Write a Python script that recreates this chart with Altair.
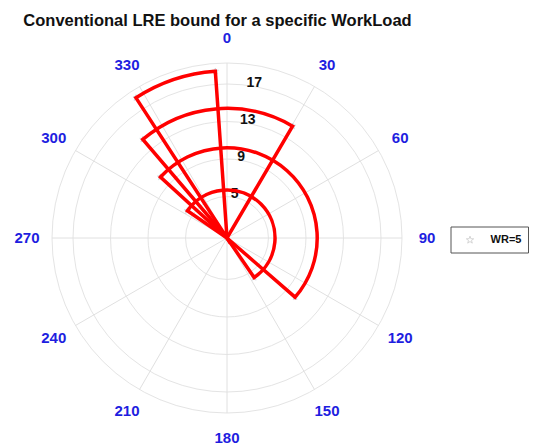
import math
import altair as alt
import pandas as pd

# ---------------- data ----------------
TITLE = "Conventional LRE bound for a specific WorkLoad"
THETA_TICKS = [0, 30, 60, 90, 120, 150, 180, 210, 240, 270, 300, 330]
SPOKES = [0, 30, 60, 90, 120, 150]
RING_TICKS = [5, 9, 13, 17]
R_MIN, R_MAX = 0.58, 19.24          # radial axis limits

WEDGE_R = [5.7, 10.2, 14.4, 18.4]
WEDGE_START = [304.5, 312.5, 319.5, 327.0]   # degrees, clockwise from north
WEDGE_END = [145.5, 131.0, 30.4, 356.0]
LEGEND_LABEL = "WR=5"

# ---------------- layout ----------------
W, H = 521, 437
CX, CY = 219, 230
R_PX = 175
LABEL_PX = 200
FONT = "Liberation Sans"
D = R_MAX - R_MIN

theta_scale = alt.Scale(type="linear", domain=[0, 360], range=[0, 2 * math.pi], zero=False)
radius_scale = alt.Scale(type="linear", domain=[R_MIN, R_MAX], range=[0, R_PX], zero=False)
xs = alt.Scale(domain=[-D, D], range=[CX - R_PX, CX + R_PX], zero=False)
ys = alt.Scale(domain=[-D, D], range=[CY + R_PX, CY - R_PX], zero=False)

# five-pointed star path (unit size)
pts = []
for k in range(10):
    rr = 1.0 if k % 2 == 0 else 0.4
    a = math.radians(-90 + 36 * k)
    pts.append(f"{rr*math.cos(a):.3f},{rr*math.sin(a):.3f}")
STAR = "M" + " L".join(pts) + " Z"

ring_df = pd.DataFrame({"r": RING_TICKS + [R_MAX], "t0": 0, "t1": 360})
spoke_df = pd.DataFrame({"a": SPOKES})
label_df = pd.DataFrame({"a": THETA_TICKS})
rlab_df = pd.DataFrame({"r": RING_TICKS})

wedge_df = pd.DataFrame({
    "r": WEDGE_R,
    "t0": WEDGE_START,
    "t1": [e + 360 if e < s else e for s, e in zip(WEDGE_START, WEDGE_END)],
})
corner_df = pd.DataFrame({
    "r": WEDGE_R * 2,
    "a": WEDGE_START + WEDGE_END,
})

rings = alt.Chart(ring_df).mark_arc(filled=False, stroke="#e4e4e4", strokeWidth=1, color="#e4e4e4").encode(
    theta=alt.Theta("t0:Q", scale=theta_scale),
    theta2="t1:Q",
    radius=alt.Radius("r:Q", scale=radius_scale),
    radius2=alt.value(0),
    x=alt.value(CX), y=alt.value(CY),
)

spokes = alt.Chart(spoke_df).transform_calculate(
    x1=f"{D}*sin(datum.a*PI/180)", y1=f"{D}*cos(datum.a*PI/180)",
    x2=f"-{D}*sin(datum.a*PI/180)", y2=f"-{D}*cos(datum.a*PI/180)",
).mark_rule(color="#e0e0e0", strokeWidth=1).encode(
    x=alt.X("x1:Q", scale=xs, axis=None),
    y=alt.Y("y1:Q", scale=ys, axis=None),
    x2="x2:Q", y2="y2:Q",
)

theta_labels = alt.Chart(label_df).mark_text(
    font=FONT, fontSize=15, fontWeight="bold", color="#1e1ee0", align="center", baseline="middle"
).encode(
    theta=alt.Theta("a:Q", scale=theta_scale),
    radius=alt.value(LABEL_PX),
    text=alt.Text("a:Q", format="d"),
    x=alt.value(CX), y=alt.value(CY),
)

ring_labels = alt.Chart(rlab_df).mark_text(
    font=FONT, fontSize=14, fontWeight="bold", color="#111111", align="center", baseline="middle",
    radiusOffset=3,
).encode(
    theta=alt.value(math.radians(10)),
    radius=alt.Radius("r:Q", scale=radius_scale),
    text=alt.Text("r:Q", format="d"),
    x=alt.value(CX), y=alt.value(CY),
)

corners = alt.Chart(corner_df).transform_calculate(
    px=f"(datum.r-{R_MIN})*sin(datum.a*PI/180)", py=f"(datum.r-{R_MIN})*cos(datum.a*PI/180)",
).mark_point(shape=STAR, size=40, filled=False, color="#b8c8d4", strokeWidth=1).encode(
    x=alt.X("px:Q", scale=xs, axis=None),
    y=alt.Y("py:Q", scale=ys, axis=None),
)

wedges = alt.Chart(wedge_df).mark_arc(
    filled=False, stroke="#ff0000", color="#ff0000", strokeWidth=3.5, strokeJoin="miter"
).encode(
    theta=alt.Theta("t0:Q", scale=theta_scale),
    theta2="t1:Q",
    radius=alt.Radius("r:Q", scale=radius_scale),
    radius2=alt.value(0),
    x=alt.value(CX), y=alt.value(CY),
)

leg_df = pd.DataFrame({"label": [LEGEND_LABEL]})
leg_box = alt.Chart(leg_df).mark_rect(fill="white", stroke="#555555", strokeWidth=1).encode(
    x=alt.value(443), x2=alt.value(520.5), y=alt.value(219), y2=alt.value(245)
)
leg_marker = alt.Chart(leg_df).mark_point(shape=STAR, size=60, filled=False, color="#c4c4c4", strokeWidth=1).encode(
    x=alt.value(462), y=alt.value(232)
)
leg_text = alt.Chart(leg_df).mark_text(
    font=FONT, fontSize=11, fontWeight="bold", color="#111111", align="center", baseline="middle"
).encode(x=alt.value(498), y=alt.value(232), text="label:N")

title = alt.Chart(pd.DataFrame({"t": [TITLE]})).mark_text(
    font=FONT, fontSize=16.5, fontWeight="bold", color="#111111", align="center", baseline="alphabetic"
).encode(x=alt.value(209.5), y=alt.value(18), text="t:N")

chart = alt.layer(
    rings, spokes, theta_labels, ring_labels, corners, wedges, leg_box, leg_marker, leg_text, title
).properties(
    width=W, height=H, padding=0, autosize="none", background="white"
).configure_view(strokeWidth=0)

chart.save("out.html", embed_options={"renderer": "svg", "actions": False})
